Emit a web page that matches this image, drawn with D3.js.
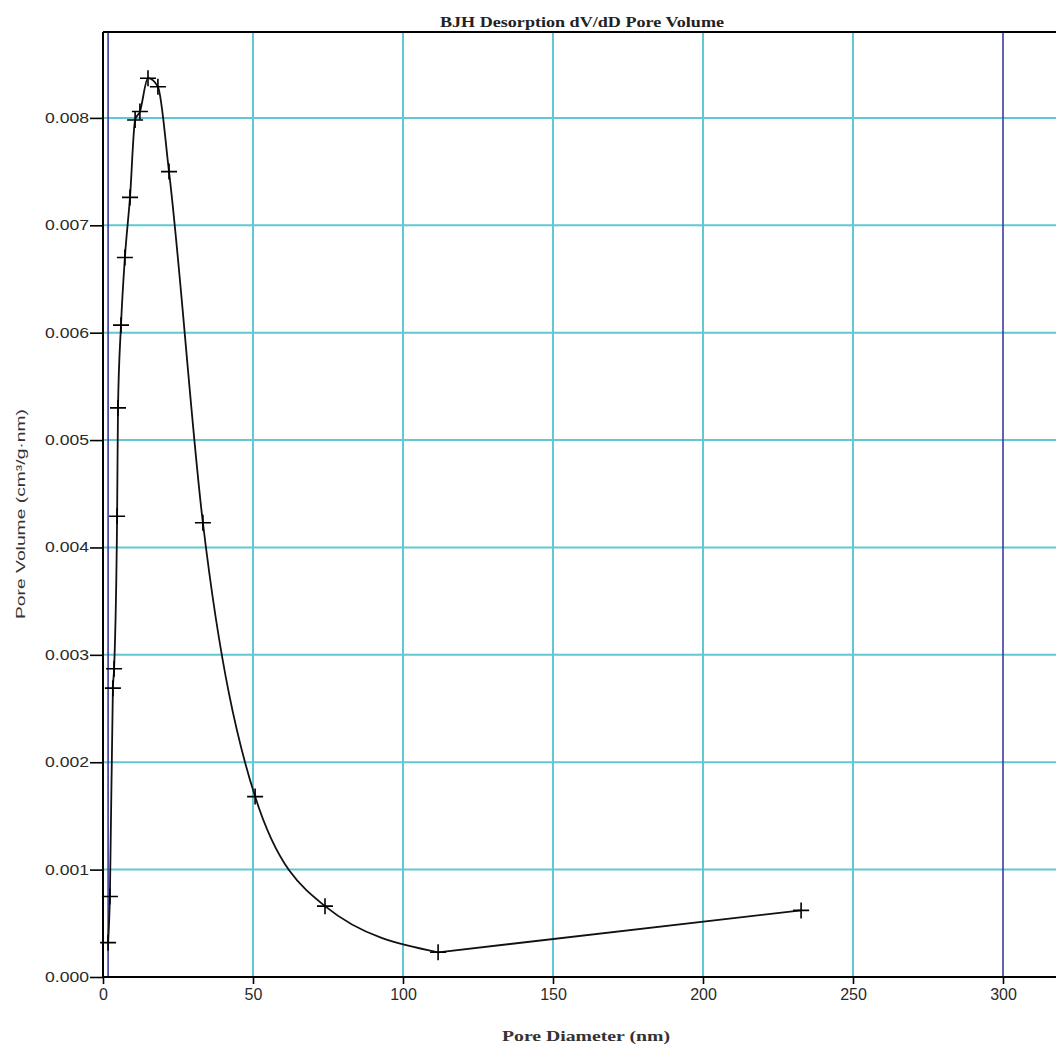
<!DOCTYPE html>
<html>
<head>
<meta charset="utf-8">
<script src="https://cdn.jsdelivr.net/npm/d3@7"></script>
<style>
body { margin: 0; background: #fff; }
svg { display: block; }
</style>
</head>
<body>
<div id="chart"></div>
<script>
var W = 1056, H = 1048;

// pore diameter (nm) and dV/dD pore volume (cm3/g.nm)
var diameter = [1.7, 2.3, 3.3, 3.7, 4.7, 5.0, 6.0, 7.3, 9.0, 10.7, 12.3, 15.0, 18.3, 22.0, 33.3, 50.7, 74.0, 111.7, 232.7];
var volume = [0.00032, 0.00075, 0.00269, 0.00287, 0.00429, 0.0053, 0.00607, 0.0067, 0.00726, 0.00798, 0.00806, 0.00837, 0.00829, 0.0075, 0.00423, 0.00168, 0.00066, 0.00023, 0.00062];

var xTicks = [0, 50, 100, 150, 200, 250, 300];
var yTicks = [0, 0.001, 0.002, 0.003, 0.004, 0.005, 0.006, 0.007, 0.008];
var rangeLines = [1.7, 300]; // BJH analysis limits

var cyan = "#5ec8d3";
var navy = "#3b3b9e";
var serif = "'Liberation Serif', 'Times New Roman', serif";
var sans = "'Liberation Sans', Arial, sans-serif";

var x = d3.scaleLinear().domain([0, 319]).range([103, 1060]);
var y = d3.scaleLinear().domain([0, 0.0088]).range([977, 32]);

var svg = d3.select("#chart").append("svg")
	.attr("width", W)
	.attr("height", H);

// grid
svg.append("g").selectAll("line")
	.data(yTicks.slice(1))
	.enter().append("line")
	.attr("x1", x(0)).attr("x2", W)
	.attr("y1", d => y(d)).attr("y2", d => y(d))
	.attr("stroke", cyan).attr("stroke-width", 2);

svg.append("g").selectAll("line")
	.data(xTicks.filter(d => d > 0 && d < 300))
	.enter().append("line")
	.attr("x1", d => x(d)).attr("x2", d => x(d))
	.attr("y1", y.range()[1]).attr("y2", y(0))
	.attr("stroke", cyan).attr("stroke-width", 2);

svg.append("g").selectAll("line")
	.data(rangeLines)
	.enter().append("line")
	.attr("x1", d => x(d)).attr("x2", d => x(d))
	.attr("y1", y.range()[1]).attr("y2", y(0))
	.attr("stroke", navy).attr("stroke-width", 1.6);

// axes
var xAxis = svg.append("g")
	.attr("transform", "translate(0," + y(0) + ")")
	.call(d3.axisBottom(x).tickValues(xTicks).tickSize(7).tickPadding(5).tickFormat(d3.format("d")));
var yAxis = svg.append("g")
	.attr("transform", "translate(" + x(0) + ",0)")
	.call(d3.axisLeft(y).tickValues(yTicks).tickSize(13).tickPadding(1).tickFormat(d3.format(".3f")));

[xAxis, yAxis].forEach(a => {
	a.select(".domain").attr("stroke", "#000").attr("stroke-width", 2);
	a.selectAll(".tick line").attr("stroke", "#000").attr("stroke-width", 1.6);
	a.selectAll("text")
		.attr("fill", "#2a2a2a")
		.style("font-family", sans);
});
xAxis.select(".domain").attr("d", "M" + x(0) + ",0H" + W);
yAxis.select(".domain").attr("d", "M0," + y(0) + "V" + y.range()[1]);
xAxis.selectAll("text").style("font-size", "16px");
yAxis.selectAll("text")
	.style("font-size", "14px")
	.attr("textLength", 44)
	.attr("lengthAdjust", "spacingAndGlyphs");

// top frame
svg.append("line")
	.attr("x1", x(0)).attr("x2", W)
	.attr("y1", y.range()[1]).attr("y2", y.range()[1])
	.attr("stroke", "#000").attr("stroke-width", 2);

// curve: smoothed through the measured range, straight to the last point
var pts = diameter.map((d, i) => [d, volume[i]]);
var line = d3.line().x(d => x(d[0])).y(d => y(d[1]));
svg.append("path")
	.datum(pts.slice(0, -1))
	.attr("fill", "none")
	.attr("stroke", "#111")
	.attr("stroke-width", 1.8)
	.attr("d", line.curve(d3.curveMonotoneX));
svg.append("path")
	.datum(pts.slice(-2))
	.attr("fill", "none")
	.attr("stroke", "#111")
	.attr("stroke-width", 1.8)
	.attr("d", line.curve(d3.curveLinear));

// cross markers
svg.append("g").selectAll("path")
	.data(pts)
	.enter().append("path")
	.attr("d", d => "M" + (x(d[0]) - 8) + "," + y(d[1]) + "h16M" + x(d[0]) + "," + (y(d[1]) - 8) + "v16")
	.attr("stroke", "#000")
	.attr("stroke-width", 1.6);

// titles
svg.append("text")
	.attr("x", 582).attr("y", 27)
	.attr("text-anchor", "middle")
	.style("font-family", serif)
	.style("font-size", "14px").style("font-weight", "bold")
	.attr("textLength", 284).attr("lengthAdjust", "spacingAndGlyphs")
	.attr("fill", "#222")
	.text("BJH Desorption dV/dD Pore Volume");

svg.append("text")
	.attr("x", 586).attr("y", 1041)
	.attr("text-anchor", "middle")
	.style("font-family", serif)
	.style("font-size", "14px").style("font-weight", "600")
	.attr("textLength", 168).attr("lengthAdjust", "spacingAndGlyphs")
	.attr("fill", "#333")
	.text("Pore Diameter (nm)");

svg.append("text")
	.attr("transform", "translate(25,514) rotate(-90)")
	.attr("text-anchor", "middle")
	.style("font-family", sans)
	.style("font-size", "13px")
	.attr("textLength", 210).attr("lengthAdjust", "spacingAndGlyphs")
	.attr("fill", "#333")
	.text("Pore Volume (cm³/g·nm)");
</script>
</body>
</html>
